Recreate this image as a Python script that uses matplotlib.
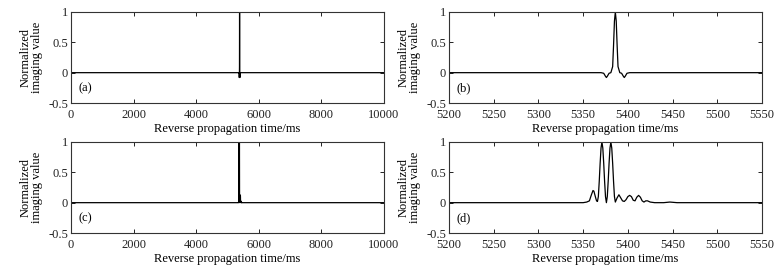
import numpy as np
import matplotlib.pyplot as plt

plt.rcParams['font.family'] = ['Liberation Serif', 'DejaVu Serif']
plt.rcParams['mathtext.fontset'] = 'stix'

# (b) single-frequency imaging result, zoomed window
tb = [5200, 5370, 5373, 5375, 5376, 5377, 5379, 5381, 5383, 5384, 5385,
      5386, 5387, 5388, 5389, 5391, 5393, 5395, 5396, 5397, 5399, 5402, 5550]
vb = [0.0, 0.0, -0.01, -0.06, -0.08, -0.06, -0.01, 0.0, 0.1, 0.45, 0.85,
      1.0, 0.85, 0.45, 0.1, 0.0, -0.01, -0.06, -0.08, -0.06, -0.01, 0.0, 0.0]

# (d) multi-frequency imaging result, zoomed window
td = [5200, 5350, 5354, 5357, 5359, 5361, 5362, 5364, 5365, 5366, 5367,
      5368, 5369, 5370, 5371, 5372, 5373, 5374, 5375, 5376, 5377, 5378,
      5379, 5380, 5381, 5382, 5383, 5384, 5385, 5386, 5388, 5390, 5392,
      5394, 5396, 5398, 5400, 5402, 5404, 5406, 5408, 5410, 5412, 5414,
      5416, 5418, 5420, 5422, 5425, 5430, 5440, 5447, 5455, 5550]
vd = [0.0, 0.0, 0.01, 0.03, 0.12, 0.2, 0.19, 0.08, 0.03, 0.02, 0.1,
      0.35, 0.65, 0.9, 1.0, 0.9, 0.65, 0.35, 0.1, 0.0, 0.1, 0.35,
      0.65, 0.9, 1.0, 0.9, 0.65, 0.35, 0.1, 0.01, 0.08, 0.13, 0.08,
      0.03, 0.02, 0.05, 0.1, 0.12, 0.1, 0.04, 0.03, 0.09, 0.12, 0.09,
      0.03, 0.01, 0.03, 0.03, 0.01, 0.0, 0.0, 0.01, 0.0, 0.0]

# full record: zero outside the zoomed windows
ta = [0] + tb + [10000]
va = [0.0] + vb + [0.0]
tc = [0] + td + [10000]
vc = [0.0] + vd + [0.0]

panels = [
    (ta, va, (0, 10000), [0, 2000, 4000, 6000, 8000, 10000], '(a)'),
    (tb, vb, (5200, 5550), list(range(5200, 5551, 50)), '(b)'),
    (tc, vc, (0, 10000), [0, 2000, 4000, 6000, 8000, 10000], '(c)'),
    (td, vd, (5200, 5550), list(range(5200, 5551, 50)), '(d)'),
]

W, H = 783, 271
fig = plt.figure(figsize=(W / 100, H / 100), dpi=100)
lefts = [71, 449]
tops = [12, 142]
aw, ah = 313, 91
fs = 9

for i, (t, v, xl, xt, lab) in enumerate(panels):
    l = lefts[i % 2]
    tp = tops[i // 2]
    ax = fig.add_axes([l / W, (H - tp - ah) / H, aw / W, ah / H])
    ax.plot(t, v, color='k', lw=0.9)
    ax.set_xlim(*xl)
    ax.set_ylim(-0.5, 1)
    ax.set_xticks(xt)
    ax.set_xticklabels([str(x) for x in xt])
    ax.set_yticks([-0.5, 0, 0.5, 1])
    ax.set_yticklabels(['-0.5', '0', '0.5', '1'])
    ax.tick_params(direction='in', length=3, width=0.7, top=True, right=True,
                   labelsize=fs, pad=2, colors='#222222')
    ax.tick_params(axis='x', pad=4.5)
    for s in ax.spines.values():
        s.set_linewidth(0.8)
        s.set_color('#333333')
    ax.set_xlabel('Reverse propagation time/ms', fontsize=fs)
    ax.set_ylabel('Normalized\nimaging value', fontsize=fs, linespacing=0.95)
    ax.xaxis.set_label_coords(0.5, -0.215)
    ax.yaxis.set_label_coords(-0.09, 0.5)
    ax.text(0.025, 0.16, lab, transform=ax.transAxes, fontsize=fs,
            va='center', ha='left')

fig.savefig('out.png', dpi=100)
